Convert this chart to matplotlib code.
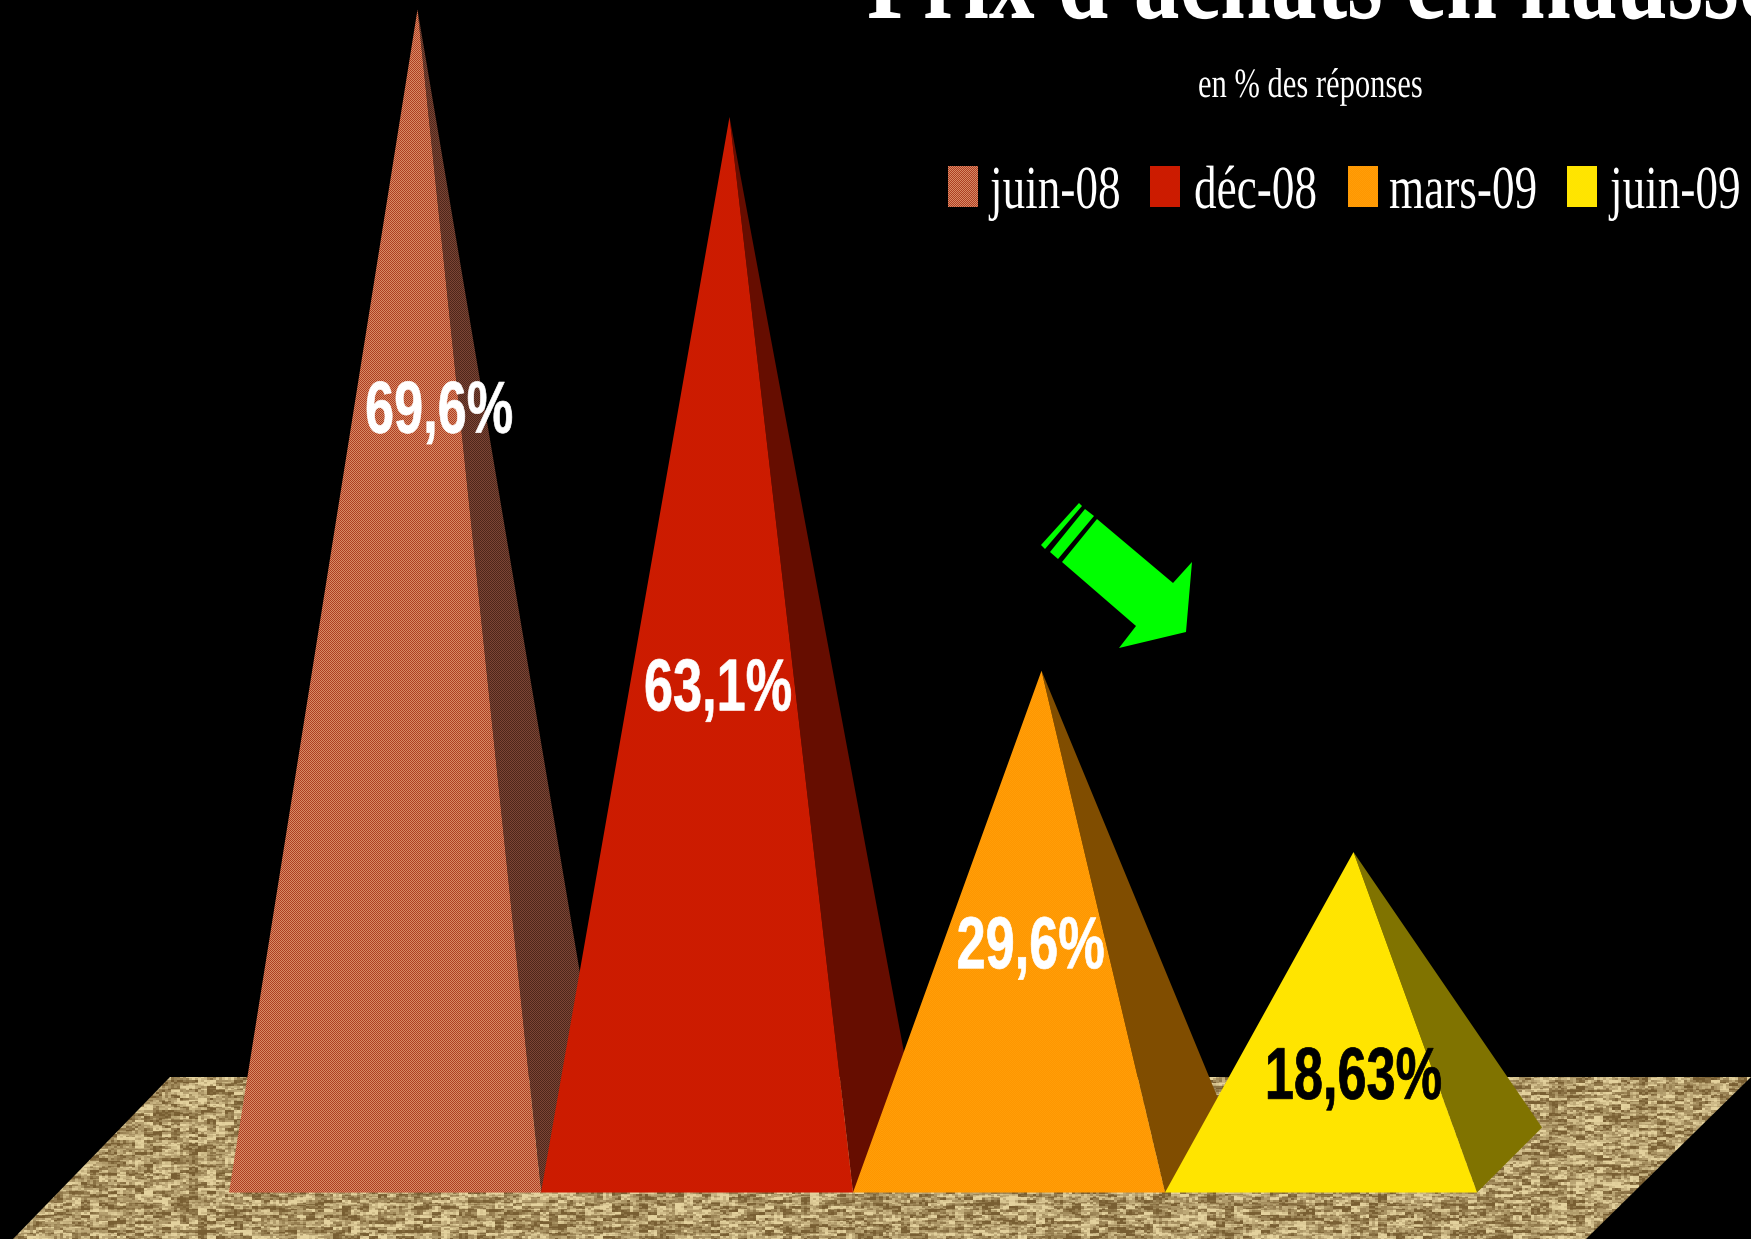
import numpy as np
from matplotlib import pyplot as plt
from matplotlib.colors import to_rgb
from matplotlib.patches import Polygon
from matplotlib.patheffects import AbstractPathEffect
from matplotlib.transforms import Affine2D

WIDTH, HEIGHT = 1751, 1239

periods = ["juin-08", "déc-08", "mars-09", "juin-09"]
values = [69.6, 63.1, 29.6, 18.63]
value_labels = ["69,6%", "63,1%", "29,6%", "18,63%"]
label_colors = ["white", "white", "white", "black"]

front_colors = [("#AE3E22", "#D88A66"), ("#CC1A00", "#CC1C00"),
                ("#FF9600", "#FF9E08"), ("#FFE300", "#FFE600")]
side_colors = [("#4E261A", "#7C4636"), ("#660D00", "#660D00"),
               ("#804D00", "#804D00"), ("#807300", "#807300")]

# chart geometry, in pixels of the reference
PX_CATEGORY = 312
PX_PERCENT = 16.53
LEFT = 229
FLOOR_LEVEL = 1160
DEPTH = 32.5 / PX_PERCENT
SKEW = 65 / PX_CATEGORY

SERIF = "Liberation Serif"
SANS = "Liberation Sans"


class Squeeze(AbstractPathEffect):
    """Narrows a text horizontally, the original uses condensed fonts."""

    def __init__(self, factor, shift=0, stroke=0):
        super().__init__()
        self.factor = factor
        self.shift = shift
        self.stroke = stroke

    def draw_path(self, renderer, gc, tpath, affine, rgbFace=None):
        x0 = affine.get_matrix()[0, 2]
        narrow = (Affine2D().translate(-x0, 0).scale(self.factor, 1)
                  .translate(x0 + self.shift, 0))
        gc0 = renderer.new_gc()
        gc0.copy_properties(gc)
        if self.stroke:
            gc0.set_linewidth(self.stroke)
            gc0.set_foreground(rgbFace)
        renderer.draw_path(gc0, tpath, affine + narrow, rgbFace)
        gc0.restore()


def dither(first, second):
    rgb = np.array([to_rgb(first), to_rgb(second)])
    yy, xx = np.mgrid[0:HEIGHT, 0:WIDTH]
    return rgb[(xx + yy) % 2]


def cell_noise(cell_w, cell_h, seed):
    yy, xx = np.mgrid[0:HEIGHT, 0:WIDTH]
    raw = np.sin((xx // cell_w) * 12.9898 + (yy // cell_h) * 78.233 + seed) * 43758.5453
    return raw - np.floor(raw)


def floor_texture():
    mix = (0.5 * cell_noise(9, 3, 1.0) + 0.3 * cell_noise(3, 2, 2.0)
           + 0.2 * cell_noise(18, 5, 3.0))
    mix = np.clip((mix - 0.5) * 1.9 + 0.5, 0, 1)[..., None]
    dark = np.array([0x78, 0x5E, 0x32]) / 255
    light = np.array([0xE4, 0xD2, 0x9E]) / 255
    return dark + (light - dark) * mix


def textured_triangle(axes, corners, colors, z):
    shape = Polygon(corners, closed=True, facecolor="none", edgecolor="none", zorder=z)
    axes.add_patch(shape)
    im = axes.imshow(dither(*colors), extent=(*axes.get_xlim(), *axes.get_ylim()),
                     aspect="auto", interpolation="nearest", zorder=z)
    im.set_clip_path(shape)


fig = plt.figure(figsize=(WIDTH / 100, HEIGHT / 100), dpi=100, facecolor="black")

# background layer in pixel coordinates
bg = fig.add_axes([0, 0, 1, 1])
bg.set_xlim(0, WIDTH)
bg.set_ylim(HEIGHT, 0)
bg.axis("off")

floor = Polygon([(170, 1077), (WIDTH, 1077), (1586, HEIGHT), (13, HEIGHT)],
                closed=True, facecolor="none", edgecolor="none")
bg.add_patch(floor)
image = bg.imshow(floor_texture(), extent=(0, WIDTH, HEIGHT, 0), aspect="auto",
                  interpolation="nearest", zorder=1)
image.set_clip_path(floor)

# arrow
arrow_parts = [
    [(1097, 519), (1173, 583), (1192, 562), (1186, 632), (1119, 648), (1136, 626), (1062, 562)],
    [(1085, 509), (1094, 516), (1058, 559), (1050, 552)],
    [(1079, 503), (1082, 506), (1045, 549), (1041, 545)],
]
for part in arrow_parts:
    bg.add_patch(Polygon(part, closed=True, facecolor="#00FF00", edgecolor="none", zorder=2))

# title, subtitle, legend
bg.text(867, 18, "Prix d'achats en hausse", family=SERIF, weight="bold", fontsize=89,
        color="white", va="baseline", ha="left", path_effects=[Squeeze(0.74)], zorder=3)
bg.text(1198, 97, "en % des réponses", family=SERIF, fontsize=30, color="white",
        va="baseline", ha="left", path_effects=[Squeeze(0.733)], zorder=3)

legend_swatches = [948, 1150, 1348, 1567]
legend_texts = [990, 1194, 1389, 1610]
legend_shifts = [0, 24, 49, 45]
for name, colors, sx, tx, shift in zip(periods, front_colors, legend_swatches,
                                       legend_texts, legend_shifts):
    textured_triangle(bg, [(sx, 166), (sx + 30, 166), (sx + 30, 207), (sx, 207)], colors, 3)
    bg.text(tx - shift, 208, name, family=SERIF, fontsize=44, color="white", va="baseline",
            ha="left", path_effects=[Squeeze(0.74, shift)], zorder=3)
bg.set_xlim(0, WIDTH)
bg.set_ylim(HEIGHT, 0)

# pyramids in data coordinates: x in categories, y in percent
ax = fig.add_axes([0, 0, 1, 1])
ax.set_xlim(-LEFT / PX_CATEGORY, (WIDTH - LEFT) / PX_CATEGORY)
ax.set_ylim((FLOOR_LEVEL - HEIGHT) / PX_PERCENT, FLOOR_LEVEL / PX_PERCENT)
ax.axis("off")

for i, value in enumerate(values):
    apex = (i + 0.5 + SKEW / 2, value)
    front_left = (i, -DEPTH)
    front_right = (i + 1, -DEPTH)
    back_right = (i + 1 + SKEW, DEPTH)
    z = 2 + i * 2
    textured_triangle(ax, [apex, front_right, back_right], side_colors[i], z)
    textured_triangle(ax, [apex, front_left, front_right], front_colors[i], z + 1)

label_x = [0.436, 1.330, 2.332, 3.320]
label_y = [44.0, 27.2, 11.6, 3.7]
for x, y, text, color in zip(label_x, label_y, value_labels, label_colors):
    ax.text(x, y, text, family=SANS, weight="bold", fontsize=53, color=color,
            va="baseline", ha="left", path_effects=[Squeeze(0.71, stroke=0.5)], zorder=20)

ax.set_xlim(-LEFT / PX_CATEGORY, (WIDTH - LEFT) / PX_CATEGORY)
ax.set_ylim((FLOOR_LEVEL - HEIGHT) / PX_PERCENT, FLOOR_LEVEL / PX_PERCENT)

fig.savefig("out.png", dpi=100, facecolor="black")
